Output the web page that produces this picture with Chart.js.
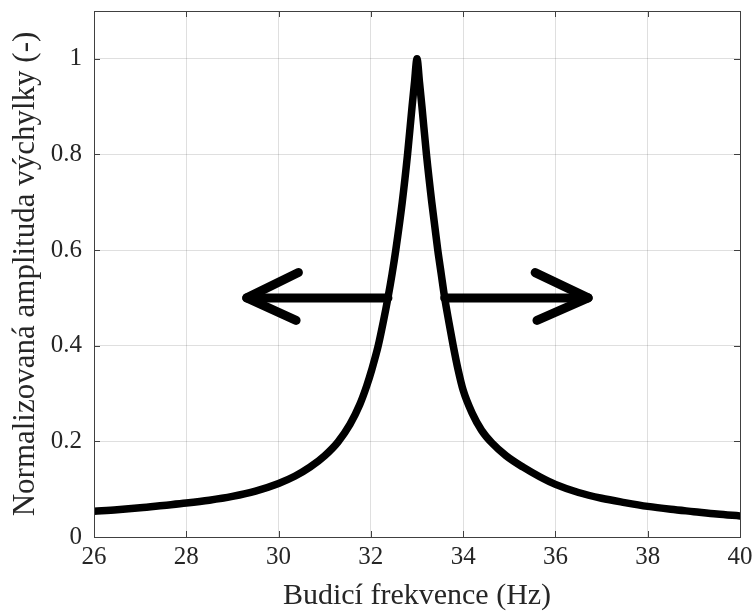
<!DOCTYPE html>
<html>
<head>
<meta charset="utf-8">
<script src="https://cdn.jsdelivr.net/npm/chart.js@4/dist/chart.umd.min.js"></script>
<style>
  html, body { margin: 0; padding: 0; background: #ffffff; }
  canvas { display: block; }
</style>
</head>
<body>
<canvas id="c" width="756" height="614"></canvas>
<script>
// ---- data ----
const freqHz = [26.0, 26.5, 27.0, 27.5, 28.0, 28.5, 29.0, 29.5, 30.0, 30.35, 30.68, 31.0, 31.29, 31.55, 31.76, 31.91, 32.02, 32.16, 32.27, 32.37, 32.46, 32.54, 32.68, 32.795, 32.893, 32.945, 33.0,
                33.055, 33.107, 33.205, 33.32, 33.45, 33.525, 33.60, 33.69, 33.785, 33.89, 34.0, 34.2, 34.4, 34.62, 34.93, 35.30, 35.66, 36.0, 36.5, 37.0, 37.5, 38.0, 38.5, 39.0, 39.5, 40.0];
const amplitude = [0.054, 0.057, 0.061, 0.066, 0.071, 0.077, 0.085, 0.096, 0.112, 0.127, 0.146, 0.170, 0.199, 0.236, 0.277, 0.316, 0.350, 0.400, 0.450, 0.500, 0.550, 0.600, 0.700, 0.800, 0.900, 0.950, 1.000,
                   0.950, 0.900, 0.800, 0.700, 0.600, 0.550, 0.500, 0.450, 0.400, 0.350, 0.307, 0.258, 0.223, 0.197, 0.170, 0.146, 0.126, 0.110, 0.093, 0.081, 0.072, 0.064, 0.058, 0.053, 0.048, 0.044];

// arrows (in data units)
const leftShaftX = [29.31, 32.37];
const leftShaftY = [0.5, 0.5];
const leftHeadX = [30.43, 29.31, 30.38];
const leftHeadY = [0.553, 0.5, 0.453];
const rightShaftX = [33.60, 36.71];
const rightShaftY = [0.5, 0.5];
const rightHeadX = [35.56, 36.71, 35.60];
const rightHeadY = [0.553, 0.5, 0.453];

const xTicks = [26, 28, 30, 32, 34, 36, 38, 40];
const yTicks = [0, 0.2, 0.4, 0.6, 0.8, 1];
const xTitle = 'Budicí frekvence (Hz)';
const yTitle = 'Normalizovaná amplituda výchylky (-)';

// ---- helpers ----
const zip = (xs, ys) => xs.map((x, i) => ({ x: x, y: ys[i] }));
const FONT = '"Liberation Serif", "Times New Roman", serif';
const TXT = '#262626';

const arrowDs = (xs, ys) => ({
  data: zip(xs, ys),
  borderColor: '#000000',
  borderWidth: 9,
  borderCapStyle: 'round',
  borderJoinStyle: 'round',
  pointRadius: 0,
  tension: 0,
  fill: false
});

const boxTicks = {
  id: 'boxTicks',
  afterDraw(chart) {
    const { ctx, chartArea: a, scales } = chart;
    const xs = scales.x, ys = scales.y;
    const L = 6;
    ctx.save();
    ctx.strokeStyle = '#404040';
    ctx.lineWidth = 1;
    ctx.beginPath();
    xTicks.forEach(v => {
      const p = Math.round(xs.getPixelForValue(v)) + 0.5;
      ctx.moveTo(p, a.bottom); ctx.lineTo(p, a.bottom - L);
      ctx.moveTo(p, a.top); ctx.lineTo(p, a.top + L);
    });
    yTicks.forEach(v => {
      const p = Math.round(ys.getPixelForValue(v)) + 0.5;
      ctx.moveTo(a.left, p); ctx.lineTo(a.left + L, p);
      ctx.moveTo(a.right, p); ctx.lineTo(a.right - L, p);
    });
    ctx.stroke();
    ctx.strokeRect(Math.round(a.left) + 0.5, Math.round(a.top) + 0.5,
                   Math.round(a.right - a.left), Math.round(a.bottom - a.top));
    ctx.restore();
  }
};

new Chart(document.getElementById('c'), {
  type: 'line',
  data: {
    datasets: [
      {
        data: zip(freqHz, amplitude),
        borderColor: '#000000',
        borderWidth: 7.5,
        borderCapStyle: 'round',
        borderJoinStyle: 'round',
        pointRadius: 0,
        cubicInterpolationMode: 'monotone',
        fill: false
      },
      arrowDs(leftShaftX, leftShaftY),
      arrowDs(leftHeadX, leftHeadY),
      arrowDs(rightShaftX, rightShaftY),
      arrowDs(rightHeadX, rightHeadY)
    ]
  },
  options: {
    responsive: false,
    animation: false,
    events: [],
    layout: { padding: { top: 11, right: 16, left: 0, bottom: 0 } },
    plugins: { legend: { display: false }, tooltip: { enabled: false } },
    scales: {
      x: {
        type: 'linear',
        min: 26, max: 40,
        afterBuildTicks: s => { s.ticks = xTicks.map(v => ({ value: v })); },
        afterFit: s => { s.height = 77; s.paddingLeft = 0; s.paddingRight = 0; },
        grid: { color: 'rgba(38,38,38,0.15)', drawTicks: false },
        border: { display: false },
        ticks: {
          padding: 5,
          color: TXT,
          font: { family: FONT, size: 25 },
          callback: v => String(v),
          maxRotation: 0
        },
        title: {
          display: true,
          text: xTitle,
          color: TXT,
          font: { family: FONT, size: 30 },
          padding: { top: 0, bottom: 0 }
        }
      },
      y: {
        type: 'linear',
        min: 0, max: 1.1,
        afterBuildTicks: s => { s.ticks = yTicks.map(v => ({ value: v })); },
        afterFit: s => { s.width = 94; s.paddingTop = 0; s.paddingBottom = 0; },
        grid: { color: 'rgba(38,38,38,0.15)', drawTicks: false },
        border: { display: false },
        ticks: {
          padding: 12,
          color: TXT,
          font: { family: FONT, size: 25 },
          callback: v => String(v)
        },
        title: {
          display: true,
          text: yTitle,
          color: TXT,
          font: { family: FONT, size: 31 },
          padding: { top: 7, bottom: 0 }
        }
      }
    }
  },
  plugins: [boxTicks]
});
</script>
</body>
</html>
